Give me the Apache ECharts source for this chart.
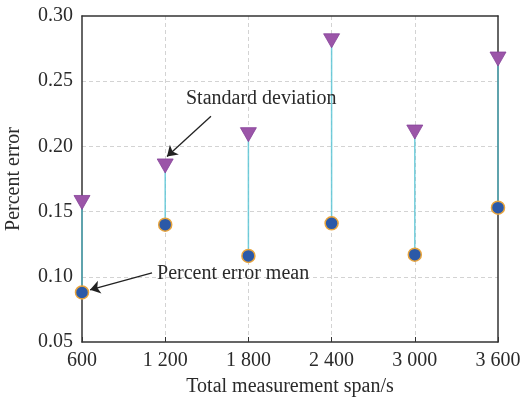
<!DOCTYPE html>
<html>
<head>
<meta charset="utf-8">
<script src="https://cdn.jsdelivr.net/npm/echarts@6/dist/echarts.min.js"></script>
<style>
html,body{margin:0;padding:0;background:#fff;}
#c{width:522px;height:399px;}
</style>
</head>
<body>
<div id="c"></div>
<script>
// Data
const spans = [600, 1200, 1800, 2400, 3000, 3600];
const spanLabels = ['600', '1 200', '1 800', '2 400', '3 000', '3 600'];
const meanValues = [0.088, 0.140, 0.116, 0.141, 0.117, 0.153];
const stdValues = [0.157, 0.185, 0.209, 0.281, 0.211, 0.267];
const yTicks = [0.05, 0.10, 0.15, 0.20, 0.25, 0.30];

const FONT = 'Liberation Serif';
const TXT = '#2a2a2a';
const chart = echarts.init(document.getElementById('c'));

const meanData = spans.map((s, i) => [s, meanValues[i]]);
const stdData = spans.map((s, i) => [s, stdValues[i]]);
const rangeData = spans.map((s, i) => [s, meanValues[i], stdValues[i]]);
const frameLine = { show: true, lineStyle: { color: '#333', width: 1.5 } };
const gridLine = { show: true, showMinLine: false, showMaxLine: false, lineStyle: { color: '#d3d3d3', type: [4, 3], width: 1 } };

chart.setOption({
  animation: false,
  backgroundColor: '#fff',
  grid: { left: 82, right: 24, top: 16, bottom: 57, outerBoundsMode: 'none', containLabel: false },
  xAxis: [{
    type: 'value', min: 600, max: 3600, interval: 600, position: 'bottom',
    name: 'Total measurement span/s', nameLocation: 'middle', nameGap: 35,
    nameTextStyle: { fontFamily: FONT, fontSize: 20, color: TXT },
    axisLine: frameLine, z: 1,
    axisTick: { show: true, inside: true, length: 5, lineStyle: { color: '#333' } },
    axisLabel: { fontFamily: FONT, fontSize: 20, color: TXT, margin: 9,
      formatter: v => { const k = spans.indexOf(v); return k >= 0 ? spanLabels[k] : ''; } },
    splitLine: gridLine
  }, {
    type: 'value', min: 600, max: 3600, interval: 600, position: 'top',
    axisLine: frameLine, axisTick: { show: false }, axisLabel: { show: false }, splitLine: { show: false }, z: 1
  }],
  yAxis: [{
    type: 'value', min: yTicks[0], max: yTicks[yTicks.length - 1], interval: 0.05, position: 'left',
    name: 'Percent error', nameLocation: 'middle', nameGap: 58,
    nameTextStyle: { fontFamily: FONT, fontSize: 20, color: TXT },
    axisLine: frameLine, z: 1,
    axisTick: { show: false },
    axisLabel: { fontFamily: FONT, fontSize: 20, color: TXT, margin: 9,
      formatter: v => v.toFixed(2) },
    splitLine: gridLine
  }, {
    type: 'value', min: yTicks[0], max: yTicks[yTicks.length - 1], interval: 0.05, position: 'right',
    axisLine: frameLine, axisTick: { show: false }, axisLabel: { show: false }, splitLine: { show: false }, z: 1
  }],
  series: [
    {
      type: 'custom',
      data: rangeData,
      z: 3,
      renderItem: (params, api) => {
        const p1 = api.coord([api.value(0), api.value(1)]);
        const p2 = api.coord([api.value(0), api.value(2)]);
        return { type: 'line', shape: { x1: p1[0], y1: p1[1], x2: p2[0], y2: p2[1] },
          style: { stroke: '#5cc6d6', lineWidth: 1.5, opacity: 0.85 } };
      }
    },
    {
      type: 'scatter', name: 'std', data: stdData, z: 6,
      symbol: 'triangle', symbolRotate: 180, symbolSize: [16, 14],
      itemStyle: { color: '#9b55a8', borderColor: '#86429a', borderWidth: 0.8, opacity: 1 }
    },
    {
      type: 'scatter', name: 'mean', data: meanData, z: 7,
      symbol: 'circle', symbolSize: 13,
      itemStyle: { color: '#2b59a8', borderColor: '#e8a43c', borderWidth: 1.5, opacity: 1 },
      markLine: {
        silent: true, symbol: ['none', 'arrow'], symbolSize: 10,
        label: { show: false },
        lineStyle: { color: '#222', width: 1.3, type: 'solid' },
        data: [
          [{ coord: [1530, 0.2231] }, { coord: [1213, 0.1923] }],
          [{ coord: [1105, 0.1031] }, { coord: [658, 0.0900] }]
        ]
      },
      markPoint: {
        silent: true, symbol: 'circle', symbolSize: 0,
        label: { show: true, position: 'right', distance: 0, fontFamily: FONT, fontSize: 20, color: TXT },
        data: [
          { coord: [1350, 0.2362], label: { formatter: 'Standard deviation' } },
          { coord: [1141, 0.1023], label: { formatter: 'Percent error mean' } }
        ]
      }
    }
  ]
});
</script>
</body>
</html>
